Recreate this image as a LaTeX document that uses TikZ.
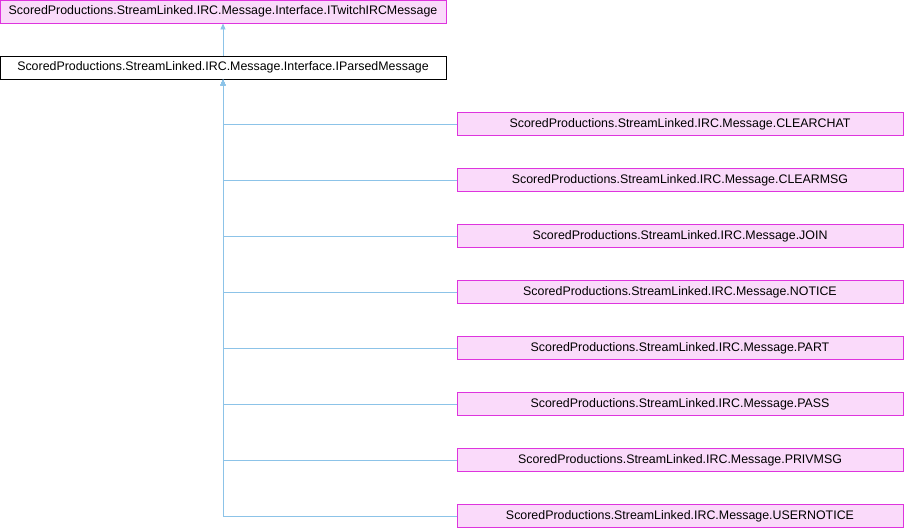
\documentclass[tikz,border=0pt]{standalone}
\usepackage{fontspec}
\setmainfont{Liberation Sans}
\usetikzlibrary{arrows.meta}
\definecolor{boxpink}{RGB}{250,218,250}
\definecolor{edgepink}{RGB}{222,52,222}
\definecolor{linkblue}{RGB}{140,195,232}
\tikzset{
  classbox/.style={draw=edgepink, fill=boxpink, line width=0.9pt, minimum width=446, minimum height=23, inner sep=0pt, font=\fontsize{12.4}{14}\selectfont},
  plainbox/.style={classbox, draw=black, fill=white},
  inherit/.style={draw=linkblue, line width=0.8pt, -{Triangle[length=6pt,width=5pt,fill=linkblue]}}
}
\begin{document}
\begin{tikzpicture}[x=1pt,y=1pt,yscale=-1,xscale=1]
\useasboundingbox (0,0) rectangle (904,528);

%Shape: Rectangle [interfaces]
    \node [classbox] (itwitch) at (223,11.5) {ScoredProductions.StreamLinked.IRC.Message.Interface.ITwitchIRCMessage};
    \node [plainbox] (iparsed) at (223,67.5) {ScoredProductions.StreamLinked.IRC.Message.Interface.IParsedMessage};

%Shape: Rectangle [messages]
    \node [classbox] (clearchat) at (680,124) {ScoredProductions.StreamLinked.IRC.Message.CLEARCHAT};
    \node [classbox] (clearmsg) at (680,180) {ScoredProductions.StreamLinked.IRC.Message.CLEARMSG};
    \node [classbox] (join) at (680,236) {ScoredProductions.StreamLinked.IRC.Message.JOIN};
    \node [classbox] (notice) at (680,292) {ScoredProductions.StreamLinked.IRC.Message.NOTICE};
    \node [classbox] (part) at (680,348) {ScoredProductions.StreamLinked.IRC.Message.PART};
    \node [classbox] (pass) at (680,404) {ScoredProductions.StreamLinked.IRC.Message.PASS};
    \node [classbox] (privmsg) at (680,460) {ScoredProductions.StreamLinked.IRC.Message.PRIVMSG};
    \node [classbox] (usernotice) at (680,516) {ScoredProductions.StreamLinked.IRC.Message.USERNOTICE};

%Straight Lines [inheritance]
    \draw [inherit] (iparsed.north) -- (itwitch.south);
    \foreach \msg in {clearchat,clearmsg,join,notice,part,pass,privmsg,usernotice}
        \draw [inherit] (\msg.west) -| (iparsed.south);

\end{tikzpicture}
\end{document}
